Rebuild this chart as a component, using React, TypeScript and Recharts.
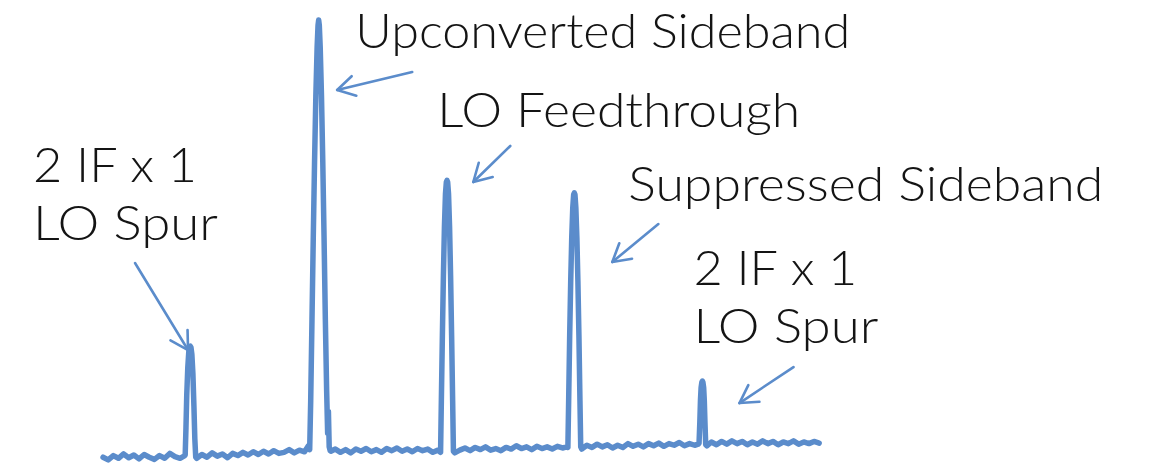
import React from "react";
import { LineChart, Line, XAxis, YAxis, ReferenceLine, ReferenceDot } from "recharts";

// Spectrum trace, frequency in MHz and power in dBm
const floorA: [number, number][] = [
  [973.2, -80.4], [973.6, -80.9], [974.0, -80.1], [974.4, -80.6], [974.8, -79.8], [975.2, -80.5],
  [975.6, -80.0], [976.0, -80.7], [976.4, -79.9], [976.8, -80.4], [977.2, -80.8], [977.6, -80.1],
  [978.0, -80.6], [978.4, -79.7], [978.8, -80.3], [979.2, -80.6], [979.5, -80.2],
];
const spurLow: [number, number][] = [
  [979.6, -80.0], [979.66, -75], [979.72, -69], [979.8, -64], [979.88, -61], [979.95, -60.1],
  [980.0, -60.0], [980.05, -60.2], [980.12, -61.5], [980.2, -65], [980.28, -71], [980.35, -77], [980.42, -80.4],
];
const floorB: [number, number][] = [
  [980.5, -80.6], [980.9, -79.9], [981.3, -80.4], [981.7, -79.6], [982.1, -80.2], [982.5, -79.8],
  [982.9, -80.5], [983.3, -79.7], [983.7, -80.1], [984.1, -79.5], [984.5, -80.0], [984.9, -79.4],
  [985.3, -79.9], [985.7, -79.3], [986.1, -79.8], [986.5, -79.2], [986.9, -79.7], [987.3, -79.5],
  [987.7, -79.0], [988.1, -79.6], [988.5, -79.1], [988.9, -79.4], [989.2, -78.3],
];
const upperSideband: [number, number][] = [
  [989.3, -79.0], [989.38, -70], [989.48, -55], [989.58, -40], [989.68, -26], [989.78, -14],
  [989.88, -5], [989.95, -1], [990.0, 0], [990.05, -1], [990.12, -5], [990.22, -14], [990.32, -26],
  [990.42, -40], [990.52, -55], [990.62, -68], [990.7, -76], [990.76, -72], [990.82, -78.5], [990.9, -79.2],
];
const floorC: [number, number][] = [
  [990.95, -79.3], [991.3, -78.9], [991.7, -79.5], [992.1, -79.0], [992.5, -79.6], [992.9, -78.9],
  [993.3, -79.3], [993.7, -78.8], [994.1, -79.4], [994.5, -79.0], [994.9, -79.5], [995.3, -78.8],
  [995.7, -79.2], [996.1, -78.7], [996.5, -79.3], [996.9, -78.9], [997.3, -79.4], [997.7, -78.8],
  [998.1, -79.2], [998.5, -78.9], [998.9, -79.5], [999.3, -79.1],
];
const loFeedthrough: [number, number][] = [
  [999.5, -79.5], [999.56, -70], [999.64, -58], [999.72, -47], [999.8, -38], [999.88, -32],
  [999.95, -29.8], [1000.0, -29.5], [1000.05, -29.8], [1000.12, -32], [1000.2, -38], [1000.28, -47],
  [1000.36, -58], [1000.44, -70], [1000.5, -79.3],
];
const floorD: [number, number][] = [
  [1000.6, -79.6], [1001.0, -79.1], [1001.4, -78.7], [1001.8, -79.2], [1002.2, -78.6], [1002.6, -79.0],
  [1003.0, -78.5], [1003.4, -79.1], [1003.8, -78.8], [1004.2, -79.2], [1004.6, -78.6], [1005.0, -78.9],
  [1005.4, -78.3], [1005.8, -78.8], [1006.2, -78.5], [1006.6, -79.0], [1007.0, -78.4], [1007.4, -78.8],
  [1007.8, -78.5], [1008.2, -78.9], [1008.6, -78.4], [1009.0, -78.7], [1009.35, -78.5],
];
const suppressedSideband: [number, number][] = [
  [1009.42, -78.6], [1009.48, -70], [1009.56, -58], [1009.64, -48], [1009.72, -40], [1009.8, -34.5],
  [1009.87, -32.1], [1009.92, -31.8], [1009.97, -32.1], [1010.04, -34.5], [1010.12, -40], [1010.2, -48],
  [1010.28, -58], [1010.36, -70], [1010.42, -78.5],
];
const floorE: [number, number][] = [
  [1010.5, -78.9], [1010.9, -78.2], [1011.3, -78.6], [1011.7, -78.0], [1012.1, -78.5], [1012.5, -78.1],
  [1012.9, -78.7], [1013.3, -78.2], [1013.7, -78.6], [1014.1, -77.9], [1014.5, -78.4], [1014.9, -78.0],
  [1015.3, -78.5], [1015.7, -77.9], [1016.1, -78.3], [1016.5, -77.8], [1016.9, -78.4], [1017.3, -77.9],
  [1017.7, -78.2], [1018.1, -77.7], [1018.5, -78.3], [1018.9, -77.9], [1019.3, -78.2], [1019.58, -78.0],
];
const spurHigh: [number, number][] = [
  [1019.64, -77.8], [1019.7, -74], [1019.75, -70], [1019.8, -67.6], [1019.86, -66.6], [1019.9, -66.4],
  [1019.94, -66.6], [1020.0, -67.6], [1020.05, -70], [1020.1, -74], [1020.16, -78.1],
];
const floorF: [number, number][] = [
  [1020.25, -78.3], [1020.6, -77.6], [1021.0, -78.1], [1021.4, -77.5], [1021.8, -78.0], [1022.2, -77.4],
  [1022.6, -77.9], [1023.0, -77.5], [1023.4, -78.1], [1023.8, -77.6], [1024.2, -78.0], [1024.6, -77.4],
  [1025.0, -77.9], [1025.4, -77.5], [1025.8, -78.1], [1026.2, -77.6], [1026.6, -77.9], [1027.0, -77.4],
  [1027.4, -78.0], [1027.8, -77.6], [1028.2, -77.9], [1028.6, -77.5], [1029.0, -77.8],
];

// Annotations: arrow tail -> tip (MHz, dBm)
const arrows: [[number, number], [number, number]][] = [
  [[975.69, -44.69], [979.82, -60.69]],
  [[997.29, -9.56], [991.44, -12.87]],
  [[1004.93, -23.17], [1002.05, -29.79]],
  [[1016.47, -37.52], [1012.88, -44.51]],
  [[1027.0, -63.82], [1022.79, -70.44]],
];
// Label anchors (left, first baseline) and lines of text
const labelAnchors: [number, number][] = [
  [992.85, -5.15],
  [999.24, -19.68],
  [1014.13, -33.29],
  [967.74, -29.79],
  [1019.2, -48.74],
];
const labelLines: string[][] = [
  ["Upconverted Sideband"],
  ["LO Feedthrough"],
  ["Suppressed Sideband"],
  ["2 IF x 1", "LO Spur"],
  ["2 IF x 1", "LO Spur"],
];
const labelWidths: number[][] = [[495], [363], [475], [164, 185], [164, 185]];

const trace = [
  ...floorA, ...spurLow, ...floorB, ...upperSideband, ...floorC, ...loFeedthrough,
  ...floorD, ...suppressedSideband, ...floorE, ...spurHigh, ...floorF,
].map(([f, p]) => ({ f, p }));

const BLUE = "#5b8ccb";

const ArrowShape = (props: any) => {
  const { x1, y1, x2, y2 } = props;
  const ang = Math.atan2(y1 - y2, x1 - x2);
  const len = 20;
  const spread = (30 * Math.PI) / 180;
  const w1x = x2 + len * Math.cos(ang + spread);
  const w1y = y2 + len * Math.sin(ang + spread);
  const w2x = x2 + len * Math.cos(ang - spread);
  const w2y = y2 + len * Math.sin(ang - spread);
  return (
    <g stroke={BLUE} strokeWidth={2.6} strokeLinecap="round" fill="none">
      <line x1={x1} y1={y1} x2={x2} y2={y2} />
      <polyline points={`${w1x},${w1y} ${x2},${y2} ${w2x},${w2y}`} strokeLinejoin="round" />
    </g>
  );
};

const makeLabel = (idx: number) => (props: any) => {
  const { cx, cy } = props;
  return (
    <g>
      {labelLines[idx].map((t, i) => (
        <text
          key={i}
          x={cx}
          y={cy + i * 58}
          fontFamily="Lato, 'DejaVu Sans', sans-serif"
          fontWeight={300}
          fontSize={48}
          fill="#141414"
          textLength={labelWidths[idx][i]}
          lengthAdjust="spacingAndGlyphs"
        >
          {t}
        </text>
      ))}
    </g>
  );
};

export default function App() {
  return (
    <div style={{ position: "absolute", left: 0, top: 0, width: 1150, height: 467, background: "#fff" }}>
      <LineChart width={1150} height={467} data={trace} margin={{ top: 20, right: 318, bottom: 0, left: 62 }}>
        <XAxis dataKey="f" type="number" domain={[970, 1030]} hide />
        <YAxis type="number" domain={[-82.2, 0]} hide />
        <Line
          dataKey="p"
          type="linear"
          stroke={BLUE}
          strokeWidth={5.5}
          strokeLinejoin="round"
          strokeLinecap="round"
          dot={false}
          activeDot={false}
          isAnimationActive={false}
        />
        {arrows.map((seg, i) => (
          <ReferenceLine
            key={`a${i}`}
            segment={[{ x: seg[0][0], y: seg[0][1] }, { x: seg[1][0], y: seg[1][1] }]}
            ifOverflow="visible"
            shape={ArrowShape}
          />
        ))}
        {labelAnchors.map((a, i) => (
          <ReferenceDot key={`l${i}`} x={a[0]} y={a[1]} r={0} ifOverflow="visible" shape={makeLabel(i)} />
        ))}
      </LineChart>
    </div>
  );
}
